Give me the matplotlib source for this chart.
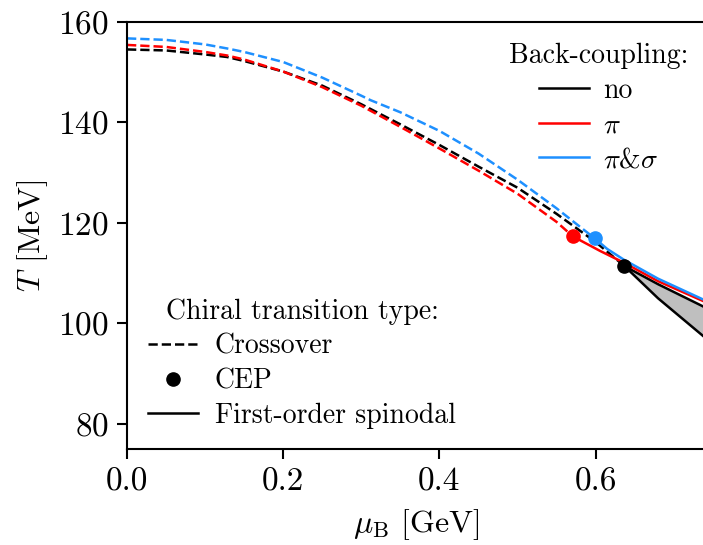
import matplotlib
matplotlib.use("Agg")
import matplotlib.pyplot as plt
from matplotlib.lines import Line2D
import numpy as np

plt.rcParams['font.family'] = ['cmr10', 'DejaVu Serif']
plt.rcParams['mathtext.fontset'] = 'cm'
plt.rcParams['axes.unicode_minus'] = False
plt.rcParams['axes.formatter.use_mathtext'] = True

# crossover lines (mu_B in GeV, T in MeV)
mu_co_no = [0.0, 0.05, 0.1, 0.128, 0.15, 0.2, 0.25, 0.3, 0.35, 0.4, 0.45, 0.5, 0.55, 0.6, 0.637]
T_co_no = [154.5, 154.3, 153.5, 153.0, 152.2, 150.1, 147.3, 143.6, 139.6, 135.5, 131.2, 127.0, 121.8, 116.2, 111.4]

mu_co_pi = [0.0, 0.05, 0.1, 0.128, 0.15, 0.2, 0.25, 0.3, 0.35, 0.4, 0.45, 0.5, 0.55, 0.571]
T_co_pi = [155.4, 155.0, 154.0, 153.3, 152.5, 150.1, 147.0, 143.3, 139.1, 134.8, 130.4, 125.8, 120.2, 117.3]

mu_co_ps = [0.0, 0.05, 0.1, 0.128, 0.15, 0.2, 0.25, 0.3, 0.312, 0.35, 0.4, 0.45, 0.5, 0.55, 0.599]
T_co_ps = [156.7, 156.4, 155.5, 154.7, 154.0, 152.0, 148.9, 145.3, 144.4, 142.0, 138.3, 133.8, 128.6, 122.9, 116.9]

# CEPs
cep_mu = [0.637, 0.571, 0.599]
cep_T = [111.4, 117.3, 116.9]

# first-order spinodals
mu_sp_pi = [0.571, 0.606, 0.636, 0.68, 0.74]
T_sp_pi = [117.3, 114.4, 112.1, 108.4, 104.3]

mu_sp_ps = [0.599, 0.615, 0.636, 0.68, 0.74]
T_sp_ps = [116.9, 114.8, 112.7, 108.9, 104.6]

mu_sp_no = [0.637, 0.68, 0.74]
T_sp_no_up = [111.4, 107.8, 103.2]
T_sp_no_lo = [111.4, 105.0, 97.2]

colors = ['black', 'red', '#1E90FF']
labels = ['no', r'$\pi$', r'$\pi$&$\sigma$']

fig = plt.figure(figsize=(7.03, 5.45), dpi=100)
ax = fig.add_axes([0.1807, 0.176, 0.822, 0.784])

lw = 1.8
ax.plot(mu_co_no, T_co_no, '--', color=colors[0], lw=lw)
ax.plot(mu_co_pi, T_co_pi, '--', color=colors[1], lw=lw)
ax.plot(mu_co_ps, T_co_ps, '--', color=colors[2], lw=lw)

ax.fill_between(mu_sp_no, T_sp_no_lo, T_sp_no_up, color='0.75', lw=0)
ax.plot(mu_sp_no, T_sp_no_up, '-', color=colors[0], lw=lw)
ax.plot(mu_sp_no, T_sp_no_lo, '-', color=colors[0], lw=lw)
ax.plot(mu_sp_pi, T_sp_pi, '-', color=colors[1], lw=lw)
ax.plot(mu_sp_ps, T_sp_ps, '-', color=colors[2], lw=lw)

for m, t, c in zip(cep_mu, cep_T, colors):
    ax.plot(m, t, 'o', color=c, ms=9.5, zorder=5)

ax.set_xlim(0, 0.74)
ax.set_ylim(75, 160)
ax.set_xticks([0.0, 0.2, 0.4, 0.6])
ax.set_yticks([80, 100, 120, 140, 160])
ax.set_xticklabels(['0.0', '0.2', '0.4', '0.6'])
ax.set_xlabel(r'$\mu_\mathrm{B}$ [GeV]', fontsize=23, labelpad=8)
ax.set_ylabel(r'$T$ [MeV]', fontsize=23, labelpad=6)
ax.tick_params(labelsize=24, width=1.5, length=7)
ax.tick_params(axis='x', pad=6)
ax.tick_params(axis='y', pad=6)
for s in ax.spines.values():
    s.set_linewidth(1.5)

h1 = [Line2D([], [], color=c, lw=lw) for c in colors]
leg1 = ax.legend(h1, labels, title='Back-coupling:', loc='upper right',
                 frameon=False, fontsize=20, title_fontsize=20,
                 labelspacing=0.3, handlelength=1.8, handletextpad=0.5,
                 borderaxespad=0.2, bbox_to_anchor=(1.0, 0.99))
ax.add_artist(leg1)

h2 = [Line2D([], [], color='k', ls='--', lw=lw),
      Line2D([], [], color='k', ls='', marker='o', ms=9.5),
      Line2D([], [], color='k', ls='-', lw=lw)]
ax.legend(h2, ['Crossover', 'CEP', 'First-order spinodal'],
          title='Chiral transition type:', loc='lower left',
          frameon=False, fontsize=20, title_fontsize=20,
          labelspacing=0.3, handlelength=1.8, handletextpad=0.6,
          borderaxespad=0.2, bbox_to_anchor=(0.008, 0.008))

fig.savefig('out.png', dpi=100)
